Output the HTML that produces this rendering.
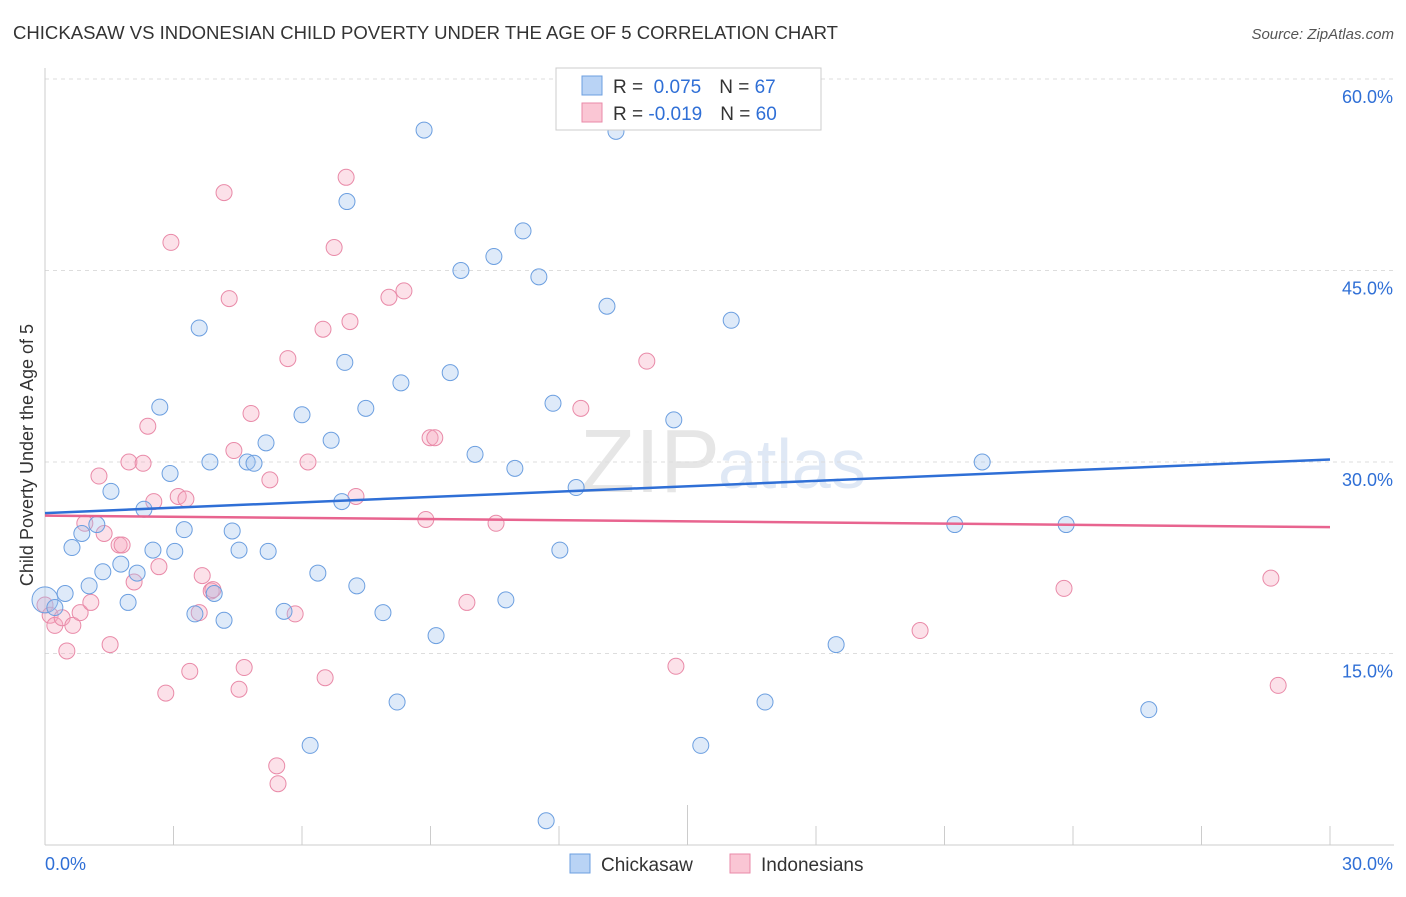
<!DOCTYPE html>
<html><head><meta charset="utf-8"><style>
body{margin:0;background:#fff;font-family:"Liberation Sans",sans-serif;}
svg text{font-family:"Liberation Sans",sans-serif;}
</style></head><body>
<svg id="chart" width="1406" height="892">
<text x="13" y="39" font-size="18" fill="#333" textLength="825" lengthAdjust="spacingAndGlyphs">CHICKASAW VS INDONESIAN CHILD POVERTY UNDER THE AGE OF 5 CORRELATION CHART</text>
<text x="1394" y="39" font-size="15" fill="#555" text-anchor="end" font-style="italic">Source: ZipAtlas.com</text>
<text transform="translate(33,455) rotate(-90)" font-size="18" fill="#333" text-anchor="middle">Child Poverty Under the Age of 5</text>
<text x="720" y="492" font-size="90" fill="#e6e6e6" text-anchor="end" font-family="Liberation Serif">ZIP</text>
<text x="718" y="488" font-size="70" fill="#dfe8f5">atlas</text>
<g id="grid"></g><g id="pts"></g><g id="lines"></g>
<g>
<rect x="556" y="68" width="265" height="62" fill="#fff" stroke="#ccc"/>
<rect x="582" y="76" width="20" height="19" fill="#b9d3f5" stroke="#6c9fe0"/>
<rect x="582" y="103" width="20" height="19" fill="#fac6d4" stroke="#e98aa8"/>
<text x="613" y="93" font-size="19" fill="#333">R = <tspan fill="#2f6fd6">&#160;0.075</tspan><tspan dx="18">N = </tspan><tspan fill="#2f6fd6">67</tspan></text>
<text x="613" y="120" font-size="19" fill="#333">R = <tspan fill="#2f6fd6">-0.019</tspan><tspan dx="18">N = </tspan><tspan fill="#2f6fd6">60</tspan></text>
</g>
<g>
<rect x="570" y="854" width="20" height="19" fill="#b9d3f5" stroke="#6c9fe0"/>
<text x="601" y="871" font-size="19" fill="#333">Chickasaw</text>
<rect x="730" y="854" width="20" height="19" fill="#fac6d4" stroke="#e98aa8"/>
<text x="761" y="871" font-size="19" fill="#333">Indonesians</text>
</g>
</svg>
<script>
const yTicks=[15,30,45,60];
const xTickLabels=["0.0%","30.0%"];
const blueX=[0,0.23,0.47,0.63,0.86,1.03,1.21,1.35,1.54,1.77,1.94,2.15,2.31,2.52,2.68,2.92,3.03,3.25,3.50,3.60,3.85,3.95,4.18,4.37,4.53,4.72,4.88,5.16,5.21,5.58,6.00,6.19,6.37,6.68,6.93,7.00,7.05,7.28,7.49,7.89,8.22,8.31,8.85,9.13,9.46,9.71,10.04,10.48,10.76,10.97,11.16,11.53,11.70,11.86,12.02,12.40,13.12,13.33,14.68,15.31,16.02,16.81,18.47,21.24,21.88,23.84,25.77];
const blueY=[19.2,18.6,19.7,23.3,24.4,20.3,25.1,21.4,27.7,22.0,19.0,21.3,26.3,23.1,34.3,29.1,23.0,24.7,18.1,40.5,30.0,19.7,17.6,24.6,23.1,30.0,29.9,31.5,23.0,18.3,33.7,7.8,21.3,31.7,26.9,37.8,50.4,20.3,34.2,18.2,11.2,36.2,56.0,16.4,37.0,45.0,30.6,46.1,19.2,29.5,48.1,44.5,1.9,34.6,23.1,28.0,42.2,55.9,33.3,7.8,41.1,11.2,15.7,25.1,30.0,25.1,10.6];
const pinkX=[0,0.12,0.23,0.40,0.51,0.65,0.82,0.93,1.07,1.26,1.38,1.52,1.73,1.80,1.96,2.08,2.29,2.40,2.54,2.66,2.82,2.94,3.11,3.29,3.38,3.60,3.67,3.88,3.92,4.18,4.30,4.41,4.53,4.65,4.81,5.25,5.41,5.44,5.67,5.84,6.14,6.49,6.54,6.75,7.03,7.12,7.26,8.03,8.38,8.89,8.99,9.10,9.85,10.53,12.51,14.05,14.73,20.43,23.79,28.62,28.79];
const pinkY=[18.8,18.0,17.2,17.8,15.2,17.2,18.2,25.2,19.0,28.9,24.4,15.7,23.5,23.5,30.0,20.6,29.9,32.8,26.9,21.8,11.9,47.2,27.3,27.1,13.6,18.2,21.1,19.9,20.0,51.1,42.8,30.9,12.2,13.9,33.8,28.6,6.2,4.8,38.1,18.1,30.0,40.4,13.1,46.8,52.3,41.0,27.3,42.9,43.4,25.5,31.9,31.9,19.0,25.2,34.2,37.9,14.0,16.8,20.1,20.9,12.5];
const blueTrend=[26.0,30.2];
const pinkTrend=[25.8,24.9];
const NS="http://www.w3.org/2000/svg";
const sx=v=>45+v/30*1285;
const sy=v=>845-v/60*766;
function mk(tag,attrs,parent){const e=document.createElementNS(NS,tag);for(const k in attrs)e.setAttribute(k,attrs[k]);parent.appendChild(e);return e;}
const grid=document.getElementById('grid');
yTicks.forEach(t=>{
 const l=mk('line',{x1:45,x2:1394,y1:sy(t),y2:sy(t),stroke:'#ddd','stroke-dasharray':'4,4'},grid);
 
 
 const tx=mk('text',{x:1393,y:sy(t)+24,'font-size':18,fill:'#2f6fd6','text-anchor':'end'},grid);
 tx.textContent=t.toFixed(1)+'%';
 
 
});
const ax=mk('line',{x1:45,x2:1394,y1:845,y2:845,stroke:'#ccc'},grid);


const ay=mk('line',{x1:45,x2:45,y1:68,y2:845,stroke:'#ccc'},grid);


for(let i=0;i<=10;i++){
 const v=i*3;
 const tk=mk('line',{x1:sx(v),x2:sx(v),y1:i==5?805:826,y2:845,stroke:'#ccc'},grid);
 
 
}
[[0,'start',45],[30,'end',1393]].forEach((p,i)=>{
 const tx=mk('text',{x:p[2],y:870,'font-size':18,fill:'#2f6fd6','text-anchor':p[1]},grid);
 tx.textContent=xTickLabels[i];
 
 
});
const pts=document.getElementById('pts');
pinkX.forEach((x,i)=>{
 const c=mk('circle',{cx:sx(x),cy:sy(pinkY[i]),r:8,fill:'rgba(246,168,192,0.35)',stroke:'#e98aa8','stroke-width':1},pts);
 
 
});
blueX.forEach((x,i)=>{
 const c=mk('circle',{cx:sx(x),cy:sy(blueY[i]),r:i==0?13:8,fill:'rgba(160,194,238,0.35)',stroke:'#6c9fe0','stroke-width':1},pts);
 
 
});
const lines=document.getElementById('lines');
const bl=mk('line',{x1:sx(0),x2:sx(30),y1:sy(blueTrend[0]),y2:sy(blueTrend[1]),stroke:'#2f6fd6','stroke-width':2.5},lines);


const pl=mk('line',{x1:sx(0),x2:sx(30),y1:sy(pinkTrend[0]),y2:sy(pinkTrend[1]),stroke:'#e8648f','stroke-width':2.5},lines);


</script>
</body></html>
